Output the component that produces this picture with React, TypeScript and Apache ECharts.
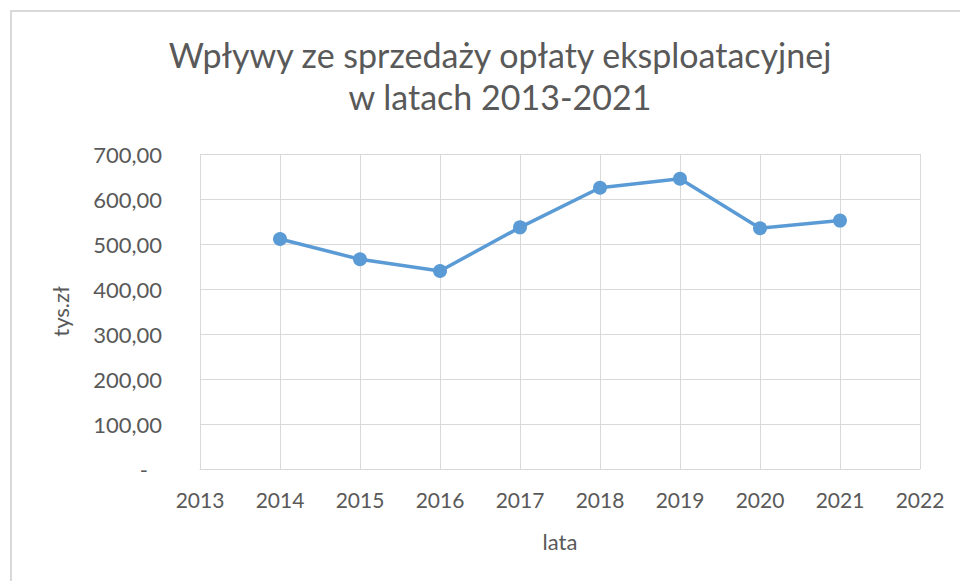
import React, { useEffect, useRef } from "react";
import * as echarts from "echarts";

const title = "Wpływy ze sprzedaży opłaty eksploatacyjnej\nw latach 2013-2021";
const years = [2014, 2015, 2016, 2017, 2018, 2019, 2020, 2021];
const values = [511, 466, 440, 537, 625, 645, 535, 552];
const xName = "lata";
const yName = "tys.zł";

const FONT = "Lato";
const GREY = "#595959";

export default function App() {
  const ref = useRef<HTMLDivElement>(null);
  useEffect(() => {
    document.body.style.margin = "0";
    const chart = echarts.init(ref.current!, null, { renderer: "svg" });
    chart.setOption({
      animation: false,
      backgroundColor: "#ffffff",
      textStyle: { fontFamily: FONT },
      title: {
        text: title,
        left: 495,
        textAlign: "center",
        top: 28,
        textStyle: {
          fontFamily: FONT,
          fontSize: 34,
          fontWeight: "normal",
          color: GREY,
          lineHeight: 42,
        },
      },
      graphic: [
        {
          type: "polyline",
          shape: { points: [[11, 600], [11, 11], [970, 11]] },
          style: { stroke: "#d9d9d9", lineWidth: 2, fill: "none" },
          silent: true,
        },
      ],
      grid: { left: 200, right: 40, top: 154, bottom: 112, containLabel: false },
      xAxis: {
        type: "value",
        min: 2013,
        max: 2022,
        interval: 1,
        name: xName,
        nameLocation: "middle",
        nameGap: 61,
        nameTextStyle: { fontFamily: FONT, fontSize: 22, color: GREY },
        axisLine: { show: true, lineStyle: { color: "#d9d9d9", width: 1 } },
        axisTick: { show: false },
        splitLine: { show: true, lineStyle: { color: "#d9d9d9", width: 1 } },
        axisLabel: {
          fontFamily: FONT,
          fontSize: 21,
          color: GREY,
          margin: 20,
          formatter: (v: number) => String(v),
        },
      },
      yAxis: {
        type: "value",
        min: 0,
        max: 700,
        interval: 100,
        name: yName,
        nameLocation: "middle",
        nameGap: 129,
        nameRotate: 90,
        nameTextStyle: { fontFamily: FONT, fontSize: 22, color: GREY },
        axisLine: { show: false },
        axisTick: { show: false },
        splitLine: { show: true, lineStyle: { color: "#d9d9d9", width: 1 } },
        axisLabel: {
          fontFamily: FONT,
          fontSize: 22,
          color: GREY,
          margin: 38,
          formatter: (v: number) =>
            v === 0 ? "{z|-}" : v.toFixed(2).replace(".", ","),
          rich: {
            z: { fontFamily: FONT, fontSize: 22, color: GREY, padding: [0, 14, 0, 0] },
          },
        },
      },
      series: [
        {
          type: "line",
          data: years.map((y, i) => [y, values[i]]),
          symbol: "circle",
          symbolSize: 14,
          lineStyle: { color: "#5B9BD5", width: 3.5 },
          itemStyle: { color: "#5B9BD5" },
        },
      ],
    });
    return () => chart.dispose();
  }, []);
  return <div ref={ref} style={{ width: 960, height: 581 }} />;
}
